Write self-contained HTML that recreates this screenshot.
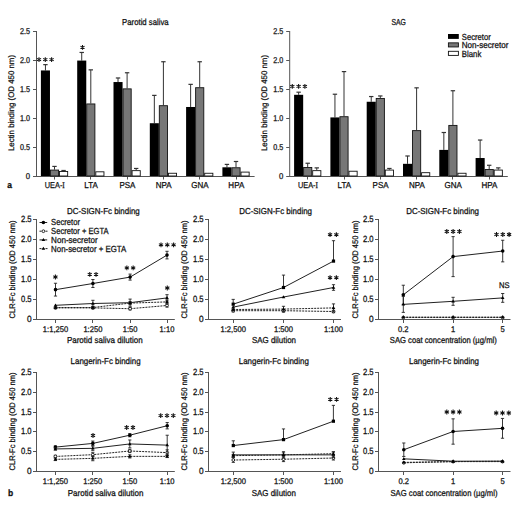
<!DOCTYPE html>
<html><head><meta charset="utf-8"><style>
html,body{margin:0;padding:0;background:#fff;}
svg{display:block;}
text{font-family:"Liberation Sans", sans-serif;text-rendering:geometricPrecision;}
</style></head><body>
<svg width="520" height="516" viewBox="0 0 520 516">
<rect width="520" height="516" fill="#fff"></rect>
<line x1="36.50" y1="31.00" x2="36.50" y2="177.00" stroke="#555" stroke-width="1"></line>
<line x1="33.00" y1="176.50" x2="36.50" y2="176.50" stroke="#555" stroke-width="1"></line>
<text x="30.10" y="178.50" font-size="8.42" text-anchor="end" fill="#111" stroke="#111" stroke-width="0.26" textLength="4.34" lengthAdjust="spacingAndGlyphs">0</text>
<line x1="33.00" y1="147.50" x2="36.50" y2="147.50" stroke="#555" stroke-width="1"></line>
<text x="30.10" y="149.50" font-size="8.42" text-anchor="end" fill="#111" stroke="#111" stroke-width="0.26" textLength="10.0" lengthAdjust="spacingAndGlyphs">0.5</text>
<line x1="33.00" y1="118.50" x2="36.50" y2="118.50" stroke="#555" stroke-width="1"></line>
<text x="30.10" y="120.50" font-size="8.42" text-anchor="end" fill="#111" stroke="#111" stroke-width="0.26" textLength="10.0" lengthAdjust="spacingAndGlyphs">1.0</text>
<line x1="33.00" y1="89.50" x2="36.50" y2="89.50" stroke="#555" stroke-width="1"></line>
<text x="30.10" y="91.50" font-size="8.42" text-anchor="end" fill="#111" stroke="#111" stroke-width="0.26" textLength="10.0" lengthAdjust="spacingAndGlyphs">1.5</text>
<line x1="33.00" y1="60.50" x2="36.50" y2="60.50" stroke="#555" stroke-width="1"></line>
<text x="30.10" y="62.50" font-size="8.42" text-anchor="end" fill="#111" stroke="#111" stroke-width="0.26" textLength="10.0" lengthAdjust="spacingAndGlyphs">2.0</text>
<line x1="33.00" y1="31.50" x2="36.50" y2="31.50" stroke="#555" stroke-width="1"></line>
<text x="30.10" y="33.50" font-size="8.42" text-anchor="end" fill="#111" stroke="#111" stroke-width="0.26" textLength="10.0" lengthAdjust="spacingAndGlyphs">2.5</text>
<line x1="36.50" y1="176.50" x2="254.60" y2="176.50" stroke="#555" stroke-width="1"></line>
<text x="0.00" y="0.00" font-size="8.1" text-anchor="middle" fill="#111" stroke="#111" stroke-width="0.26" textLength="96" lengthAdjust="spacingAndGlyphs" data-noscale="1" transform="translate(13.9,103) rotate(-90)">Lectin binding (OD 450 nm)</text>
<line x1="54.50" y1="177.00" x2="54.50" y2="179.50" stroke="#555" stroke-width="1"></line>
<text x="54.80" y="187.70" font-size="8.64" text-anchor="middle" fill="#111" stroke="#111" stroke-width="0.26" textLength="20.0" lengthAdjust="spacingAndGlyphs">UEA-<tspan font-family="Liberation Serif">I</tspan></text>
<line x1="45.44" y1="64.64" x2="45.44" y2="70.44" stroke="#333" stroke-width="1"></line>
<line x1="43.23" y1="64.64" x2="47.64" y2="64.64" stroke="#333" stroke-width="1.2"></line>
<rect x="40.90" y="70.44" width="9.07" height="105.56" fill="#000"></rect>
<line x1="54.50" y1="166.43" x2="54.50" y2="169.62" stroke="#333" stroke-width="1"></line>
<line x1="52.30" y1="166.43" x2="56.70" y2="166.43" stroke="#333" stroke-width="1.2"></line>
<rect x="50.42" y="170.07" width="8.17" height="5.93" fill="#777" stroke="#111" stroke-width="0.9"></rect>
<line x1="63.58" y1="170.49" x2="63.58" y2="171.07" stroke="#333" stroke-width="1"></line>
<line x1="61.38" y1="170.49" x2="65.78" y2="170.49" stroke="#333" stroke-width="1.2"></line>
<rect x="59.49" y="171.52" width="8.17" height="4.48" fill="#fff" stroke="#111" stroke-width="0.9"></rect>
<line x1="90.50" y1="177.00" x2="90.50" y2="179.50" stroke="#555" stroke-width="1"></line>
<text x="91.10" y="187.70" font-size="8.64" text-anchor="middle" fill="#111" stroke="#111" stroke-width="0.26" textLength="13.48" lengthAdjust="spacingAndGlyphs">LTA</text>
<line x1="81.73" y1="52.46" x2="81.73" y2="60.58" stroke="#333" stroke-width="1"></line>
<line x1="79.53" y1="52.46" x2="83.94" y2="52.46" stroke="#333" stroke-width="1.2"></line>
<rect x="77.20" y="60.58" width="9.07" height="115.42" fill="#000"></rect>
<line x1="90.81" y1="69.86" x2="90.81" y2="103.50" stroke="#333" stroke-width="1"></line>
<line x1="88.61" y1="69.86" x2="93.01" y2="69.86" stroke="#333" stroke-width="1.2"></line>
<rect x="86.72" y="103.95" width="8.17" height="72.05" fill="#777" stroke="#111" stroke-width="0.9"></rect>
<rect x="95.79" y="171.81" width="8.17" height="4.19" fill="#fff" stroke="#111" stroke-width="0.9"></rect>
<line x1="127.50" y1="177.00" x2="127.50" y2="179.50" stroke="#555" stroke-width="1"></line>
<text x="127.40" y="187.70" font-size="8.64" text-anchor="middle" fill="#111" stroke="#111" stroke-width="0.26" textLength="16.02" lengthAdjust="spacingAndGlyphs">PSA</text>
<line x1="118.03" y1="77.98" x2="118.03" y2="82.04" stroke="#333" stroke-width="1"></line>
<line x1="115.83" y1="77.98" x2="120.23" y2="77.98" stroke="#333" stroke-width="1.2"></line>
<rect x="113.50" y="82.04" width="9.07" height="93.96" fill="#000"></rect>
<line x1="127.10" y1="72.76" x2="127.10" y2="88.42" stroke="#333" stroke-width="1"></line>
<line x1="124.90" y1="72.76" x2="129.30" y2="72.76" stroke="#333" stroke-width="1.2"></line>
<rect x="123.02" y="88.87" width="8.17" height="87.13" fill="#777" stroke="#111" stroke-width="0.9"></rect>
<line x1="136.17" y1="168.46" x2="136.17" y2="170.20" stroke="#333" stroke-width="1"></line>
<line x1="133.97" y1="168.46" x2="138.37" y2="168.46" stroke="#333" stroke-width="1.2"></line>
<rect x="132.09" y="170.65" width="8.17" height="5.35" fill="#fff" stroke="#111" stroke-width="0.9"></rect>
<line x1="163.50" y1="177.00" x2="163.50" y2="179.50" stroke="#555" stroke-width="1"></line>
<text x="163.70" y="187.70" font-size="8.64" text-anchor="middle" fill="#111" stroke="#111" stroke-width="0.26" textLength="15.86" lengthAdjust="spacingAndGlyphs">NPA</text>
<line x1="154.33" y1="95.38" x2="154.33" y2="123.22" stroke="#333" stroke-width="1"></line>
<line x1="152.13" y1="95.38" x2="156.53" y2="95.38" stroke="#333" stroke-width="1.2"></line>
<rect x="149.80" y="123.22" width="9.07" height="52.78" fill="#000"></rect>
<line x1="163.40" y1="61.74" x2="163.40" y2="105.24" stroke="#333" stroke-width="1"></line>
<line x1="161.20" y1="61.74" x2="165.60" y2="61.74" stroke="#333" stroke-width="1.2"></line>
<rect x="159.32" y="105.69" width="8.17" height="70.31" fill="#777" stroke="#111" stroke-width="0.9"></rect>
<rect x="168.39" y="173.26" width="8.17" height="2.74" fill="#fff" stroke="#111" stroke-width="0.9"></rect>
<line x1="199.50" y1="177.00" x2="199.50" y2="179.50" stroke="#555" stroke-width="1"></line>
<text x="200.00" y="187.70" font-size="8.64" text-anchor="middle" fill="#111" stroke="#111" stroke-width="0.26" textLength="17.34" lengthAdjust="spacingAndGlyphs">GNA</text>
<line x1="190.63" y1="84.36" x2="190.63" y2="106.98" stroke="#333" stroke-width="1"></line>
<line x1="188.44" y1="84.36" x2="192.83" y2="84.36" stroke="#333" stroke-width="1.2"></line>
<rect x="186.10" y="106.98" width="9.07" height="69.02" fill="#000"></rect>
<line x1="199.70" y1="61.74" x2="199.70" y2="87.26" stroke="#333" stroke-width="1"></line>
<line x1="197.50" y1="61.74" x2="201.90" y2="61.74" stroke="#333" stroke-width="1.2"></line>
<rect x="195.62" y="87.71" width="8.17" height="88.29" fill="#777" stroke="#111" stroke-width="0.9"></rect>
<rect x="204.69" y="173.26" width="8.17" height="2.74" fill="#fff" stroke="#111" stroke-width="0.9"></rect>
<line x1="236.50" y1="177.00" x2="236.50" y2="179.50" stroke="#555" stroke-width="1"></line>
<text x="236.30" y="187.70" font-size="8.64" text-anchor="middle" fill="#111" stroke="#111" stroke-width="0.26" textLength="15.86" lengthAdjust="spacingAndGlyphs">HPA</text>
<line x1="226.94" y1="164.40" x2="226.94" y2="167.30" stroke="#333" stroke-width="1"></line>
<line x1="224.74" y1="164.40" x2="229.13" y2="164.40" stroke="#333" stroke-width="1.2"></line>
<rect x="222.40" y="167.30" width="9.07" height="8.70" fill="#000"></rect>
<line x1="236.00" y1="161.50" x2="236.00" y2="167.30" stroke="#333" stroke-width="1"></line>
<line x1="233.81" y1="161.50" x2="238.20" y2="161.50" stroke="#333" stroke-width="1.2"></line>
<rect x="231.92" y="167.75" width="8.17" height="8.25" fill="#777" stroke="#111" stroke-width="0.9"></rect>
<rect x="240.99" y="172.10" width="8.17" height="3.90" fill="#fff" stroke="#111" stroke-width="0.9"></rect>
<path d="M39.00,57.20L39.00,62.00M36.92,58.40L41.08,60.80M41.08,58.40L36.92,60.80" stroke="#111" stroke-width="1.05" fill="none"></path>
<path d="M45.30,57.20L45.30,62.00M43.22,58.40L47.38,60.80M47.38,58.40L43.22,60.80" stroke="#111" stroke-width="1.05" fill="none"></path>
<path d="M51.60,57.20L51.60,62.00M49.52,58.40L53.68,60.80M53.68,58.40L49.52,60.80" stroke="#111" stroke-width="1.05" fill="none"></path>
<path d="M82.50,44.90L82.50,49.70M80.42,46.10L84.58,48.50M84.58,46.10L80.42,48.50" stroke="#111" stroke-width="1.05" fill="none"></path>
<text x="145.40" y="25.20" font-size="8.64" text-anchor="middle" fill="#111" stroke="#111" stroke-width="0.26" textLength="46.6" lengthAdjust="spacingAndGlyphs">Parotid saliva</text>
<line x1="289.70" y1="31.00" x2="289.70" y2="177.00" stroke="#555" stroke-width="1"></line>
<line x1="286.20" y1="176.50" x2="289.70" y2="176.50" stroke="#555" stroke-width="1"></line>
<text x="283.30" y="178.50" font-size="8.42" text-anchor="end" fill="#111" stroke="#111" stroke-width="0.26" textLength="4.34" lengthAdjust="spacingAndGlyphs">0</text>
<line x1="286.20" y1="147.50" x2="289.70" y2="147.50" stroke="#555" stroke-width="1"></line>
<text x="283.30" y="149.50" font-size="8.42" text-anchor="end" fill="#111" stroke="#111" stroke-width="0.26" textLength="10.0" lengthAdjust="spacingAndGlyphs">0.5</text>
<line x1="286.20" y1="118.50" x2="289.70" y2="118.50" stroke="#555" stroke-width="1"></line>
<text x="283.30" y="120.50" font-size="8.42" text-anchor="end" fill="#111" stroke="#111" stroke-width="0.26" textLength="10.0" lengthAdjust="spacingAndGlyphs">1.0</text>
<line x1="286.20" y1="89.50" x2="289.70" y2="89.50" stroke="#555" stroke-width="1"></line>
<text x="283.30" y="91.50" font-size="8.42" text-anchor="end" fill="#111" stroke="#111" stroke-width="0.26" textLength="10.0" lengthAdjust="spacingAndGlyphs">1.5</text>
<line x1="286.20" y1="60.50" x2="289.70" y2="60.50" stroke="#555" stroke-width="1"></line>
<text x="283.30" y="62.50" font-size="8.42" text-anchor="end" fill="#111" stroke="#111" stroke-width="0.26" textLength="10.0" lengthAdjust="spacingAndGlyphs">2.0</text>
<line x1="286.20" y1="31.50" x2="289.70" y2="31.50" stroke="#555" stroke-width="1"></line>
<text x="283.30" y="33.50" font-size="8.42" text-anchor="end" fill="#111" stroke="#111" stroke-width="0.26" textLength="10.0" lengthAdjust="spacingAndGlyphs">2.5</text>
<line x1="289.70" y1="176.50" x2="507.80" y2="176.50" stroke="#555" stroke-width="1"></line>
<text x="0.00" y="0.00" font-size="8.1" text-anchor="middle" fill="#111" stroke="#111" stroke-width="0.26" textLength="96" lengthAdjust="spacingAndGlyphs" data-noscale="1" transform="translate(267.09999999999997,103) rotate(-90)">Lectin binding (OD 450 nm)</text>
<line x1="307.50" y1="177.00" x2="307.50" y2="179.50" stroke="#555" stroke-width="1"></line>
<text x="308.00" y="187.70" font-size="8.64" text-anchor="middle" fill="#111" stroke="#111" stroke-width="0.26" textLength="20.0" lengthAdjust="spacingAndGlyphs">UEA-<tspan font-family="Liberation Serif">I</tspan></text>
<line x1="298.63" y1="92.19" x2="298.63" y2="94.80" stroke="#333" stroke-width="1"></line>
<line x1="296.44" y1="92.19" x2="300.83" y2="92.19" stroke="#333" stroke-width="1.2"></line>
<rect x="294.10" y="94.80" width="9.07" height="81.20" fill="#000"></rect>
<line x1="307.70" y1="163.24" x2="307.70" y2="167.01" stroke="#333" stroke-width="1"></line>
<line x1="305.50" y1="163.24" x2="309.90" y2="163.24" stroke="#333" stroke-width="1.2"></line>
<rect x="303.62" y="167.46" width="8.17" height="8.54" fill="#777" stroke="#111" stroke-width="0.9"></rect>
<line x1="316.77" y1="167.88" x2="316.77" y2="170.20" stroke="#333" stroke-width="1"></line>
<line x1="314.57" y1="167.88" x2="318.97" y2="167.88" stroke="#333" stroke-width="1.2"></line>
<rect x="312.69" y="170.65" width="8.17" height="5.35" fill="#fff" stroke="#111" stroke-width="0.9"></rect>
<line x1="344.50" y1="177.00" x2="344.50" y2="179.50" stroke="#555" stroke-width="1"></line>
<text x="344.30" y="187.70" font-size="8.64" text-anchor="middle" fill="#111" stroke="#111" stroke-width="0.26" textLength="13.48" lengthAdjust="spacingAndGlyphs">LTA</text>
<line x1="334.94" y1="94.22" x2="334.94" y2="117.42" stroke="#333" stroke-width="1"></line>
<line x1="332.74" y1="94.22" x2="337.13" y2="94.22" stroke="#333" stroke-width="1.2"></line>
<rect x="330.40" y="117.42" width="9.07" height="58.58" fill="#000"></rect>
<line x1="344.00" y1="71.60" x2="344.00" y2="116.26" stroke="#333" stroke-width="1"></line>
<line x1="341.81" y1="71.60" x2="346.20" y2="71.60" stroke="#333" stroke-width="1.2"></line>
<rect x="339.92" y="116.71" width="8.17" height="59.29" fill="#777" stroke="#111" stroke-width="0.9"></rect>
<rect x="348.99" y="171.23" width="8.17" height="4.77" fill="#fff" stroke="#111" stroke-width="0.9"></rect>
<line x1="380.50" y1="177.00" x2="380.50" y2="179.50" stroke="#555" stroke-width="1"></line>
<text x="380.60" y="187.70" font-size="8.64" text-anchor="middle" fill="#111" stroke="#111" stroke-width="0.26" textLength="16.02" lengthAdjust="spacingAndGlyphs">PSA</text>
<line x1="371.23" y1="96.54" x2="371.23" y2="101.76" stroke="#333" stroke-width="1"></line>
<line x1="369.03" y1="96.54" x2="373.43" y2="96.54" stroke="#333" stroke-width="1.2"></line>
<rect x="366.70" y="101.76" width="9.07" height="74.24" fill="#000"></rect>
<line x1="380.30" y1="95.96" x2="380.30" y2="97.99" stroke="#333" stroke-width="1"></line>
<line x1="378.10" y1="95.96" x2="382.50" y2="95.96" stroke="#333" stroke-width="1.2"></line>
<rect x="376.22" y="98.44" width="8.17" height="77.56" fill="#777" stroke="#111" stroke-width="0.9"></rect>
<line x1="389.37" y1="168.46" x2="389.37" y2="169.62" stroke="#333" stroke-width="1"></line>
<line x1="387.17" y1="168.46" x2="391.57" y2="168.46" stroke="#333" stroke-width="1.2"></line>
<rect x="385.29" y="170.07" width="8.17" height="5.93" fill="#fff" stroke="#111" stroke-width="0.9"></rect>
<line x1="416.50" y1="177.00" x2="416.50" y2="179.50" stroke="#555" stroke-width="1"></line>
<text x="416.90" y="187.70" font-size="8.64" text-anchor="middle" fill="#111" stroke="#111" stroke-width="0.26" textLength="15.86" lengthAdjust="spacingAndGlyphs">NPA</text>
<line x1="407.53" y1="155.99" x2="407.53" y2="163.82" stroke="#333" stroke-width="1"></line>
<line x1="405.33" y1="155.99" x2="409.73" y2="155.99" stroke="#333" stroke-width="1.2"></line>
<rect x="403.00" y="163.82" width="9.07" height="12.18" fill="#000"></rect>
<line x1="416.60" y1="87.84" x2="416.60" y2="130.18" stroke="#333" stroke-width="1"></line>
<line x1="414.40" y1="87.84" x2="418.80" y2="87.84" stroke="#333" stroke-width="1.2"></line>
<rect x="412.52" y="130.63" width="8.17" height="45.37" fill="#777" stroke="#111" stroke-width="0.9"></rect>
<rect x="421.59" y="172.68" width="8.17" height="3.32" fill="#fff" stroke="#111" stroke-width="0.9"></rect>
<line x1="452.50" y1="177.00" x2="452.50" y2="179.50" stroke="#555" stroke-width="1"></line>
<text x="453.20" y="187.70" font-size="8.64" text-anchor="middle" fill="#111" stroke="#111" stroke-width="0.26" textLength="17.34" lengthAdjust="spacingAndGlyphs">GNA</text>
<line x1="443.83" y1="132.50" x2="443.83" y2="149.90" stroke="#333" stroke-width="1"></line>
<line x1="441.63" y1="132.50" x2="446.03" y2="132.50" stroke="#333" stroke-width="1.2"></line>
<rect x="439.30" y="149.90" width="9.07" height="26.10" fill="#000"></rect>
<line x1="452.90" y1="90.74" x2="452.90" y2="124.96" stroke="#333" stroke-width="1"></line>
<line x1="450.70" y1="90.74" x2="455.10" y2="90.74" stroke="#333" stroke-width="1.2"></line>
<rect x="448.82" y="125.41" width="8.17" height="50.59" fill="#777" stroke="#111" stroke-width="0.9"></rect>
<rect x="457.89" y="173.26" width="8.17" height="2.74" fill="#fff" stroke="#111" stroke-width="0.9"></rect>
<line x1="489.50" y1="177.00" x2="489.50" y2="179.50" stroke="#555" stroke-width="1"></line>
<text x="489.50" y="187.70" font-size="8.64" text-anchor="middle" fill="#111" stroke="#111" stroke-width="0.26" textLength="15.86" lengthAdjust="spacingAndGlyphs">HPA</text>
<line x1="480.13" y1="140.04" x2="480.13" y2="158.02" stroke="#333" stroke-width="1"></line>
<line x1="477.94" y1="140.04" x2="482.33" y2="140.04" stroke="#333" stroke-width="1.2"></line>
<rect x="475.60" y="158.02" width="9.07" height="17.98" fill="#000"></rect>
<line x1="489.20" y1="165.27" x2="489.20" y2="169.04" stroke="#333" stroke-width="1"></line>
<line x1="487.00" y1="165.27" x2="491.40" y2="165.27" stroke="#333" stroke-width="1.2"></line>
<rect x="485.12" y="169.49" width="8.17" height="6.51" fill="#777" stroke="#111" stroke-width="0.9"></rect>
<line x1="498.27" y1="167.88" x2="498.27" y2="169.62" stroke="#333" stroke-width="1"></line>
<line x1="496.07" y1="167.88" x2="500.47" y2="167.88" stroke="#333" stroke-width="1.2"></line>
<rect x="494.19" y="170.07" width="8.17" height="5.93" fill="#fff" stroke="#111" stroke-width="0.9"></rect>
<path d="M292.30,84.00L292.30,88.80M290.22,85.20L294.38,87.60M294.38,85.20L290.22,87.60" stroke="#111" stroke-width="1.05" fill="none"></path>
<path d="M298.60,84.00L298.60,88.80M296.52,85.20L300.68,87.60M300.68,85.20L296.52,87.60" stroke="#111" stroke-width="1.05" fill="none"></path>
<path d="M304.90,84.00L304.90,88.80M302.82,85.20L306.98,87.60M306.98,85.20L302.82,87.60" stroke="#111" stroke-width="1.05" fill="none"></path>
<text x="398.60" y="25.20" font-size="8.64" text-anchor="middle" fill="#111" stroke="#111" stroke-width="0.26" textLength="14.4" lengthAdjust="spacingAndGlyphs">SAG</text>
<rect x="448.00" y="34.00" width="10.80" height="4.90" fill="#000"></rect>
<text x="461.80" y="39.60" font-size="8.86" text-anchor="start" fill="#111" stroke="#111" stroke-width="0.26" textLength="28.9" lengthAdjust="spacingAndGlyphs">Secretor</text>
<rect x="448.40" y="42.85" width="10.00" height="4.10" fill="#777" stroke="#111" stroke-width="0.9"></rect>
<text x="461.80" y="48.05" font-size="8.86" text-anchor="start" fill="#111" stroke="#111" stroke-width="0.26" textLength="46.6" lengthAdjust="spacingAndGlyphs">Non-secretor</text>
<rect x="448.40" y="51.30" width="10.00" height="4.10" fill="#fff" stroke="#111" stroke-width="0.9"></rect>
<text x="461.80" y="56.50" font-size="8.86" text-anchor="start" fill="#111" stroke="#111" stroke-width="0.26" textLength="19.5" lengthAdjust="spacingAndGlyphs">Blank</text>
<text x="7.30" y="188.20" font-size="9.18" text-anchor="start" fill="#111" stroke="#111" stroke-width="0.26" font-weight="bold" textLength="4.73" lengthAdjust="spacingAndGlyphs">a</text>
<line x1="36.50" y1="219.00" x2="36.50" y2="320.00" stroke="#555" stroke-width="1"></line>
<line x1="33.00" y1="319.50" x2="36.50" y2="319.50" stroke="#555" stroke-width="1"></line>
<text x="31.60" y="321.80" font-size="8.96" text-anchor="end" fill="#111" stroke="#111" stroke-width="0.26" textLength="4.63" lengthAdjust="spacingAndGlyphs">0</text>
<line x1="33.00" y1="299.50" x2="36.50" y2="299.50" stroke="#555" stroke-width="1"></line>
<text x="31.60" y="301.80" font-size="8.96" text-anchor="end" fill="#111" stroke="#111" stroke-width="0.26" textLength="10.6" lengthAdjust="spacingAndGlyphs">0.5</text>
<line x1="33.00" y1="279.50" x2="36.50" y2="279.50" stroke="#555" stroke-width="1"></line>
<text x="31.60" y="281.80" font-size="8.96" text-anchor="end" fill="#111" stroke="#111" stroke-width="0.26" textLength="10.6" lengthAdjust="spacingAndGlyphs">1.0</text>
<line x1="33.00" y1="259.50" x2="36.50" y2="259.50" stroke="#555" stroke-width="1"></line>
<text x="31.60" y="261.80" font-size="8.96" text-anchor="end" fill="#111" stroke="#111" stroke-width="0.26" textLength="10.6" lengthAdjust="spacingAndGlyphs">1.5</text>
<line x1="33.00" y1="239.50" x2="36.50" y2="239.50" stroke="#555" stroke-width="1"></line>
<text x="31.60" y="241.80" font-size="8.96" text-anchor="end" fill="#111" stroke="#111" stroke-width="0.26" textLength="10.6" lengthAdjust="spacingAndGlyphs">2.0</text>
<line x1="33.00" y1="219.50" x2="36.50" y2="219.50" stroke="#555" stroke-width="1"></line>
<text x="31.60" y="221.80" font-size="8.96" text-anchor="end" fill="#111" stroke="#111" stroke-width="0.26" textLength="10.6" lengthAdjust="spacingAndGlyphs">2.5</text>
<line x1="36.50" y1="319.50" x2="174.80" y2="319.50" stroke="#555" stroke-width="1"></line>
<line x1="55.50" y1="320.00" x2="55.50" y2="323.00" stroke="#555" stroke-width="1"></line>
<text x="55.50" y="332.40" font-size="8.21" text-anchor="middle" fill="#111" stroke="#111" stroke-width="0.26" textLength="25.34" lengthAdjust="spacingAndGlyphs">1:1,250</text>
<line x1="92.50" y1="320.00" x2="92.50" y2="323.00" stroke="#555" stroke-width="1"></line>
<text x="92.90" y="332.40" font-size="8.21" text-anchor="middle" fill="#111" stroke="#111" stroke-width="0.26" textLength="19.02" lengthAdjust="spacingAndGlyphs">1:250</text>
<line x1="130.50" y1="320.00" x2="130.50" y2="323.00" stroke="#555" stroke-width="1"></line>
<text x="130.10" y="332.40" font-size="8.21" text-anchor="middle" fill="#111" stroke="#111" stroke-width="0.26" textLength="14.78" lengthAdjust="spacingAndGlyphs">1:50</text>
<line x1="167.50" y1="320.00" x2="167.50" y2="323.00" stroke="#555" stroke-width="1"></line>
<text x="167.00" y="332.40" font-size="8.21" text-anchor="middle" fill="#111" stroke="#111" stroke-width="0.26" textLength="14.78" lengthAdjust="spacingAndGlyphs">1:10</text>
<text x="0.00" y="0.00" font-size="8.1" text-anchor="middle" fill="#111" stroke="#111" stroke-width="0.26" textLength="98" lengthAdjust="spacingAndGlyphs" data-noscale="1" transform="translate(15.3,269.5) rotate(-90)">CLR-Fc binding (OD 450 nm)</text>
<text x="103.40" y="214.20" font-size="8.64" text-anchor="middle" fill="#111" stroke="#111" stroke-width="0.26" textLength="72.8" lengthAdjust="spacingAndGlyphs">DC-SIGN-Fc binding</text>
<text x="104.80" y="342.70" font-size="8.64" text-anchor="middle" fill="#111" stroke="#111" stroke-width="0.26" textLength="75.8" lengthAdjust="spacingAndGlyphs">Parotid saliva dilution</text>
<path d="M55.50,289.66 L92.90,283.50 L130.10,277.10 L167.00,255.10" fill="none" stroke="#222" stroke-width="1"></path>
<line x1="55.50" y1="283.26" x2="55.50" y2="289.66" stroke="#222" stroke-width="0.9"></line>
<line x1="53.90" y1="283.26" x2="57.10" y2="283.26" stroke="#222" stroke-width="0.9"></line>
<line x1="55.50" y1="289.66" x2="55.50" y2="296.06" stroke="#222" stroke-width="0.9"></line>
<line x1="53.90" y1="296.06" x2="57.10" y2="296.06" stroke="#222" stroke-width="0.9"></line>
<line x1="92.90" y1="279.50" x2="92.90" y2="283.50" stroke="#222" stroke-width="0.9"></line>
<line x1="91.30" y1="279.50" x2="94.50" y2="279.50" stroke="#222" stroke-width="0.9"></line>
<line x1="92.90" y1="283.50" x2="92.90" y2="287.50" stroke="#222" stroke-width="0.9"></line>
<line x1="91.30" y1="287.50" x2="94.50" y2="287.50" stroke="#222" stroke-width="0.9"></line>
<line x1="130.10" y1="274.10" x2="130.10" y2="277.10" stroke="#222" stroke-width="0.9"></line>
<line x1="128.50" y1="274.10" x2="131.70" y2="274.10" stroke="#222" stroke-width="0.9"></line>
<line x1="130.10" y1="277.10" x2="130.10" y2="280.10" stroke="#222" stroke-width="0.9"></line>
<line x1="128.50" y1="280.10" x2="131.70" y2="280.10" stroke="#222" stroke-width="0.9"></line>
<line x1="167.00" y1="251.30" x2="167.00" y2="255.10" stroke="#222" stroke-width="0.9"></line>
<line x1="165.40" y1="251.30" x2="168.60" y2="251.30" stroke="#222" stroke-width="0.9"></line>
<line x1="167.00" y1="255.10" x2="167.00" y2="258.90" stroke="#222" stroke-width="0.9"></line>
<line x1="165.40" y1="258.90" x2="168.60" y2="258.90" stroke="#222" stroke-width="0.9"></line>
<circle cx="55.50" cy="289.66" r="1.8" fill="#000"></circle>
<circle cx="92.90" cy="283.50" r="1.8" fill="#000"></circle>
<circle cx="130.10" cy="277.10" r="1.8" fill="#000"></circle>
<circle cx="167.00" cy="255.10" r="1.8" fill="#000"></circle>
<path d="M55.50,307.90 L92.90,307.90 L130.10,308.70 L167.00,305.50" fill="none" stroke="#222" stroke-width="1" stroke-dasharray="2,1"></path>
<line x1="55.50" y1="307.10" x2="55.50" y2="307.90" stroke="#222" stroke-width="0.9"></line>
<line x1="53.90" y1="307.10" x2="57.10" y2="307.10" stroke="#222" stroke-width="0.9"></line>
<line x1="55.50" y1="307.90" x2="55.50" y2="308.70" stroke="#222" stroke-width="0.9"></line>
<line x1="53.90" y1="308.70" x2="57.10" y2="308.70" stroke="#222" stroke-width="0.9"></line>
<line x1="92.90" y1="307.10" x2="92.90" y2="307.90" stroke="#222" stroke-width="0.9"></line>
<line x1="91.30" y1="307.10" x2="94.50" y2="307.10" stroke="#222" stroke-width="0.9"></line>
<line x1="92.90" y1="307.90" x2="92.90" y2="308.70" stroke="#222" stroke-width="0.9"></line>
<line x1="91.30" y1="308.70" x2="94.50" y2="308.70" stroke="#222" stroke-width="0.9"></line>
<line x1="130.10" y1="307.50" x2="130.10" y2="308.70" stroke="#222" stroke-width="0.9"></line>
<line x1="128.50" y1="307.50" x2="131.70" y2="307.50" stroke="#222" stroke-width="0.9"></line>
<line x1="130.10" y1="308.70" x2="130.10" y2="309.90" stroke="#222" stroke-width="0.9"></line>
<line x1="128.50" y1="309.90" x2="131.70" y2="309.90" stroke="#222" stroke-width="0.9"></line>
<line x1="167.00" y1="303.90" x2="167.00" y2="305.50" stroke="#222" stroke-width="0.9"></line>
<line x1="165.40" y1="303.90" x2="168.60" y2="303.90" stroke="#222" stroke-width="0.9"></line>
<line x1="167.00" y1="305.50" x2="167.00" y2="307.10" stroke="#222" stroke-width="0.9"></line>
<line x1="165.40" y1="307.10" x2="168.60" y2="307.10" stroke="#222" stroke-width="0.9"></line>
<circle cx="55.50" cy="307.90" r="1.4" fill="#fff" stroke="#000" stroke-width="0.8"></circle>
<circle cx="92.90" cy="307.90" r="1.4" fill="#fff" stroke="#000" stroke-width="0.8"></circle>
<circle cx="130.10" cy="308.70" r="1.4" fill="#fff" stroke="#000" stroke-width="0.8"></circle>
<circle cx="167.00" cy="305.50" r="1.4" fill="#fff" stroke="#000" stroke-width="0.8"></circle>
<path d="M55.50,305.30 L92.90,303.50 L130.10,302.70 L167.00,297.90" fill="none" stroke="#222" stroke-width="1"></path>
<line x1="92.90" y1="300.30" x2="92.90" y2="303.50" stroke="#222" stroke-width="0.9"></line>
<line x1="91.30" y1="300.30" x2="94.50" y2="300.30" stroke="#222" stroke-width="0.9"></line>
<line x1="92.90" y1="303.50" x2="92.90" y2="306.70" stroke="#222" stroke-width="0.9"></line>
<line x1="91.30" y1="306.70" x2="94.50" y2="306.70" stroke="#222" stroke-width="0.9"></line>
<line x1="130.10" y1="299.10" x2="130.10" y2="302.70" stroke="#222" stroke-width="0.9"></line>
<line x1="128.50" y1="299.10" x2="131.70" y2="299.10" stroke="#222" stroke-width="0.9"></line>
<line x1="130.10" y1="302.70" x2="130.10" y2="306.30" stroke="#222" stroke-width="0.9"></line>
<line x1="128.50" y1="306.30" x2="131.70" y2="306.30" stroke="#222" stroke-width="0.9"></line>
<line x1="167.00" y1="294.70" x2="167.00" y2="297.90" stroke="#222" stroke-width="0.9"></line>
<line x1="165.40" y1="294.70" x2="168.60" y2="294.70" stroke="#222" stroke-width="0.9"></line>
<line x1="167.00" y1="297.90" x2="167.00" y2="301.10" stroke="#222" stroke-width="0.9"></line>
<line x1="165.40" y1="301.10" x2="168.60" y2="301.10" stroke="#222" stroke-width="0.9"></line>
<path d="M53.70,306.50 L55.50,303.50 L57.30,306.50 Z" fill="#000"></path>
<path d="M91.10,304.70 L92.90,301.70 L94.70,304.70 Z" fill="#000"></path>
<path d="M128.30,303.90 L130.10,300.90 L131.90,303.90 Z" fill="#000"></path>
<path d="M165.20,299.10 L167.00,296.10 L168.80,299.10 Z" fill="#000"></path>
<path d="M55.50,307.50 L92.90,307.50 L130.10,303.10 L167.00,301.90" fill="none" stroke="#222" stroke-width="1" stroke-dasharray="2,1"></path>
<line x1="55.50" y1="306.70" x2="55.50" y2="307.50" stroke="#222" stroke-width="0.9"></line>
<line x1="53.90" y1="306.70" x2="57.10" y2="306.70" stroke="#222" stroke-width="0.9"></line>
<line x1="55.50" y1="307.50" x2="55.50" y2="308.30" stroke="#222" stroke-width="0.9"></line>
<line x1="53.90" y1="308.30" x2="57.10" y2="308.30" stroke="#222" stroke-width="0.9"></line>
<line x1="92.90" y1="306.30" x2="92.90" y2="307.50" stroke="#222" stroke-width="0.9"></line>
<line x1="91.30" y1="306.30" x2="94.50" y2="306.30" stroke="#222" stroke-width="0.9"></line>
<line x1="92.90" y1="307.50" x2="92.90" y2="308.70" stroke="#222" stroke-width="0.9"></line>
<line x1="91.30" y1="308.70" x2="94.50" y2="308.70" stroke="#222" stroke-width="0.9"></line>
<line x1="130.10" y1="301.50" x2="130.10" y2="303.10" stroke="#222" stroke-width="0.9"></line>
<line x1="128.50" y1="301.50" x2="131.70" y2="301.50" stroke="#222" stroke-width="0.9"></line>
<line x1="130.10" y1="303.10" x2="130.10" y2="304.70" stroke="#222" stroke-width="0.9"></line>
<line x1="128.50" y1="304.70" x2="131.70" y2="304.70" stroke="#222" stroke-width="0.9"></line>
<line x1="167.00" y1="299.90" x2="167.00" y2="301.90" stroke="#222" stroke-width="0.9"></line>
<line x1="165.40" y1="299.90" x2="168.60" y2="299.90" stroke="#222" stroke-width="0.9"></line>
<line x1="167.00" y1="301.90" x2="167.00" y2="303.90" stroke="#222" stroke-width="0.9"></line>
<line x1="165.40" y1="303.90" x2="168.60" y2="303.90" stroke="#222" stroke-width="0.9"></line>
<path d="M53.70,308.70 L55.50,305.70 L57.30,308.70 Z" fill="#000"></path>
<path d="M91.10,308.70 L92.90,305.70 L94.70,308.70 Z" fill="#000"></path>
<path d="M128.30,304.30 L130.10,301.30 L131.90,304.30 Z" fill="#000"></path>
<path d="M165.20,303.10 L167.00,300.10 L168.80,303.10 Z" fill="#000"></path>
<path d="M55.40,274.60L55.40,279.40M53.32,275.80L57.48,278.20M57.48,275.80L53.32,278.20" stroke="#111" stroke-width="1.05" fill="none"></path>
<path d="M89.75,271.90L89.75,276.70M87.67,273.10L91.83,275.50M91.83,273.10L87.67,275.50" stroke="#111" stroke-width="1.05" fill="none"></path>
<path d="M96.05,271.90L96.05,276.70M93.97,273.10L98.13,275.50M98.13,273.10L93.97,275.50" stroke="#111" stroke-width="1.05" fill="none"></path>
<path d="M126.85,265.50L126.85,270.30M124.77,266.70L128.93,269.10M128.93,266.70L124.77,269.10" stroke="#111" stroke-width="1.05" fill="none"></path>
<path d="M133.15,265.50L133.15,270.30M131.07,266.70L135.23,269.10M135.23,266.70L131.07,269.10" stroke="#111" stroke-width="1.05" fill="none"></path>
<path d="M161.00,242.40L161.00,247.20M158.92,243.60L163.08,246.00M163.08,243.60L158.92,246.00" stroke="#111" stroke-width="1.05" fill="none"></path>
<path d="M167.30,242.40L167.30,247.20M165.22,243.60L169.38,246.00M169.38,243.60L165.22,246.00" stroke="#111" stroke-width="1.05" fill="none"></path>
<path d="M173.60,242.40L173.60,247.20M171.52,243.60L175.68,246.00M175.68,243.60L171.52,246.00" stroke="#111" stroke-width="1.05" fill="none"></path>
<path d="M167.30,285.60L167.30,290.40M165.22,286.80L169.38,289.20M169.38,286.80L165.22,289.20" stroke="#111" stroke-width="1.05" fill="none"></path>
<line x1="39.50" y1="222.50" x2="47.20" y2="222.50" stroke="#222" stroke-width="1"></line>
<circle cx="43.40" cy="222.50" r="1.8" fill="#000"></circle>
<text x="51.10" y="225.40" font-size="8.86" text-anchor="start" fill="#111" stroke="#111" stroke-width="0.26" textLength="28.9" lengthAdjust="spacingAndGlyphs">Secretor</text>
<line x1="39.50" y1="231.20" x2="48.50" y2="231.20" stroke="#222" stroke-width="1" stroke-dasharray="2,1"></line>
<circle cx="43.40" cy="231.20" r="1.4" fill="#fff" stroke="#000" stroke-width="0.8"></circle>
<text x="51.10" y="234.10" font-size="8.86" text-anchor="start" fill="#111" stroke="#111" stroke-width="0.26" textLength="57.5" lengthAdjust="spacingAndGlyphs">Secretor + EGTA</text>
<line x1="39.50" y1="239.90" x2="47.20" y2="239.90" stroke="#222" stroke-width="1"></line>
<path d="M41.60,241.10 L43.40,238.10 L45.20,241.10 Z" fill="#000"></path>
<text x="51.10" y="242.80" font-size="8.86" text-anchor="start" fill="#111" stroke="#111" stroke-width="0.26" textLength="46.6" lengthAdjust="spacingAndGlyphs">Non-secretor</text>
<line x1="39.50" y1="248.60" x2="48.50" y2="248.60" stroke="#222" stroke-width="1" stroke-dasharray="2,1"></line>
<path d="M41.60,249.80 L43.40,246.80 L45.20,249.80 Z" fill="#000"></path>
<text x="51.10" y="251.50" font-size="8.86" text-anchor="start" fill="#111" stroke="#111" stroke-width="0.26" textLength="75.2" lengthAdjust="spacingAndGlyphs">Non-secretor + EGTA</text>
<line x1="208.50" y1="219.00" x2="208.50" y2="320.00" stroke="#555" stroke-width="1"></line>
<line x1="205.00" y1="319.50" x2="208.50" y2="319.50" stroke="#555" stroke-width="1"></line>
<text x="203.60" y="321.80" font-size="8.96" text-anchor="end" fill="#111" stroke="#111" stroke-width="0.26" textLength="4.63" lengthAdjust="spacingAndGlyphs">0</text>
<line x1="205.00" y1="299.50" x2="208.50" y2="299.50" stroke="#555" stroke-width="1"></line>
<text x="203.60" y="301.80" font-size="8.96" text-anchor="end" fill="#111" stroke="#111" stroke-width="0.26" textLength="10.6" lengthAdjust="spacingAndGlyphs">0.5</text>
<line x1="205.00" y1="279.50" x2="208.50" y2="279.50" stroke="#555" stroke-width="1"></line>
<text x="203.60" y="281.80" font-size="8.96" text-anchor="end" fill="#111" stroke="#111" stroke-width="0.26" textLength="10.6" lengthAdjust="spacingAndGlyphs">1.0</text>
<line x1="205.00" y1="259.50" x2="208.50" y2="259.50" stroke="#555" stroke-width="1"></line>
<text x="203.60" y="261.80" font-size="8.96" text-anchor="end" fill="#111" stroke="#111" stroke-width="0.26" textLength="10.6" lengthAdjust="spacingAndGlyphs">1.5</text>
<line x1="205.00" y1="239.50" x2="208.50" y2="239.50" stroke="#555" stroke-width="1"></line>
<text x="203.60" y="241.80" font-size="8.96" text-anchor="end" fill="#111" stroke="#111" stroke-width="0.26" textLength="10.6" lengthAdjust="spacingAndGlyphs">2.0</text>
<line x1="205.00" y1="219.50" x2="208.50" y2="219.50" stroke="#555" stroke-width="1"></line>
<text x="203.60" y="221.80" font-size="8.96" text-anchor="end" fill="#111" stroke="#111" stroke-width="0.26" textLength="10.6" lengthAdjust="spacingAndGlyphs">2.5</text>
<line x1="208.50" y1="319.50" x2="341.00" y2="319.50" stroke="#555" stroke-width="1"></line>
<line x1="233.50" y1="320.00" x2="233.50" y2="323.00" stroke="#555" stroke-width="1"></line>
<text x="233.20" y="332.40" font-size="8.21" text-anchor="middle" fill="#111" stroke="#111" stroke-width="0.26" textLength="25.34" lengthAdjust="spacingAndGlyphs">1:2,500</text>
<line x1="283.50" y1="320.00" x2="283.50" y2="323.00" stroke="#555" stroke-width="1"></line>
<text x="283.50" y="332.40" font-size="8.21" text-anchor="middle" fill="#111" stroke="#111" stroke-width="0.26" textLength="19.02" lengthAdjust="spacingAndGlyphs">1:500</text>
<line x1="333.50" y1="320.00" x2="333.50" y2="323.00" stroke="#555" stroke-width="1"></line>
<text x="333.50" y="332.40" font-size="8.21" text-anchor="middle" fill="#111" stroke="#111" stroke-width="0.26" textLength="19.02" lengthAdjust="spacingAndGlyphs">1:100</text>
<text x="0.00" y="0.00" font-size="8.1" text-anchor="middle" fill="#111" stroke="#111" stroke-width="0.26" textLength="98" lengthAdjust="spacingAndGlyphs" data-noscale="1" transform="translate(187.10000000000002,269.5) rotate(-90)">CLR-Fc binding (OD 450 nm)</text>
<text x="275.60" y="214.20" font-size="8.64" text-anchor="middle" fill="#111" stroke="#111" stroke-width="0.26" textLength="72.8" lengthAdjust="spacingAndGlyphs">DC-SIGN-Fc binding</text>
<text x="274.00" y="342.70" font-size="8.64" text-anchor="middle" fill="#111" stroke="#111" stroke-width="0.26" textLength="44" lengthAdjust="spacingAndGlyphs">SAG dilution</text>
<path d="M233.20,304.18 L283.50,287.50 L333.50,261.10" fill="none" stroke="#222" stroke-width="1"></path>
<line x1="233.20" y1="299.38" x2="233.20" y2="304.18" stroke="#222" stroke-width="0.9"></line>
<line x1="231.60" y1="299.38" x2="234.80" y2="299.38" stroke="#222" stroke-width="0.9"></line>
<line x1="283.50" y1="275.10" x2="283.50" y2="287.50" stroke="#222" stroke-width="0.9"></line>
<line x1="281.90" y1="275.10" x2="285.10" y2="275.10" stroke="#222" stroke-width="0.9"></line>
<line x1="333.50" y1="240.70" x2="333.50" y2="261.10" stroke="#222" stroke-width="0.9"></line>
<line x1="331.90" y1="240.70" x2="335.10" y2="240.70" stroke="#222" stroke-width="0.9"></line>
<rect x="231.60" y="302.58" width="3.2" height="3.2" fill="#000"></rect>
<rect x="281.90" y="285.90" width="3.2" height="3.2" fill="#000"></rect>
<rect x="331.90" y="259.50" width="3.2" height="3.2" fill="#000"></rect>
<path d="M233.20,310.70 L283.50,310.70 L333.50,311.50" fill="none" stroke="#222" stroke-width="1" stroke-dasharray="2,1"></path>
<line x1="233.20" y1="309.50" x2="233.20" y2="310.70" stroke="#222" stroke-width="0.9"></line>
<line x1="231.60" y1="309.50" x2="234.80" y2="309.50" stroke="#222" stroke-width="0.9"></line>
<line x1="233.20" y1="310.70" x2="233.20" y2="311.90" stroke="#222" stroke-width="0.9"></line>
<line x1="231.60" y1="311.90" x2="234.80" y2="311.90" stroke="#222" stroke-width="0.9"></line>
<line x1="283.50" y1="309.50" x2="283.50" y2="310.70" stroke="#222" stroke-width="0.9"></line>
<line x1="281.90" y1="309.50" x2="285.10" y2="309.50" stroke="#222" stroke-width="0.9"></line>
<line x1="283.50" y1="310.70" x2="283.50" y2="311.90" stroke="#222" stroke-width="0.9"></line>
<line x1="281.90" y1="311.90" x2="285.10" y2="311.90" stroke="#222" stroke-width="0.9"></line>
<line x1="333.50" y1="310.30" x2="333.50" y2="311.50" stroke="#222" stroke-width="0.9"></line>
<line x1="331.90" y1="310.30" x2="335.10" y2="310.30" stroke="#222" stroke-width="0.9"></line>
<line x1="333.50" y1="311.50" x2="333.50" y2="312.70" stroke="#222" stroke-width="0.9"></line>
<line x1="331.90" y1="312.70" x2="335.10" y2="312.70" stroke="#222" stroke-width="0.9"></line>
<circle cx="233.20" cy="310.70" r="1.4" fill="#fff" stroke="#000" stroke-width="0.8"></circle>
<circle cx="283.50" cy="310.70" r="1.4" fill="#fff" stroke="#000" stroke-width="0.8"></circle>
<circle cx="333.50" cy="311.50" r="1.4" fill="#fff" stroke="#000" stroke-width="0.8"></circle>
<path d="M233.20,307.10 L283.50,297.02 L333.50,287.50" fill="none" stroke="#222" stroke-width="1"></path>
<line x1="333.50" y1="284.70" x2="333.50" y2="287.50" stroke="#222" stroke-width="0.9"></line>
<line x1="331.90" y1="284.70" x2="335.10" y2="284.70" stroke="#222" stroke-width="0.9"></line>
<line x1="333.50" y1="287.50" x2="333.50" y2="290.30" stroke="#222" stroke-width="0.9"></line>
<line x1="331.90" y1="290.30" x2="335.10" y2="290.30" stroke="#222" stroke-width="0.9"></line>
<path d="M231.40,308.30 L233.20,305.30 L235.00,308.30 Z" fill="#000"></path>
<path d="M281.70,298.22 L283.50,295.22 L285.30,298.22 Z" fill="#000"></path>
<path d="M331.70,288.70 L333.50,285.70 L335.30,288.70 Z" fill="#000"></path>
<path d="M233.20,309.50 L283.50,309.10 L333.50,307.90" fill="none" stroke="#222" stroke-width="1" stroke-dasharray="2,1"></path>
<line x1="233.20" y1="308.30" x2="233.20" y2="309.50" stroke="#222" stroke-width="0.9"></line>
<line x1="231.60" y1="308.30" x2="234.80" y2="308.30" stroke="#222" stroke-width="0.9"></line>
<line x1="233.20" y1="309.50" x2="233.20" y2="310.70" stroke="#222" stroke-width="0.9"></line>
<line x1="231.60" y1="310.70" x2="234.80" y2="310.70" stroke="#222" stroke-width="0.9"></line>
<line x1="283.50" y1="306.30" x2="283.50" y2="309.10" stroke="#222" stroke-width="0.9"></line>
<line x1="281.90" y1="306.30" x2="285.10" y2="306.30" stroke="#222" stroke-width="0.9"></line>
<line x1="283.50" y1="309.10" x2="283.50" y2="311.90" stroke="#222" stroke-width="0.9"></line>
<line x1="281.90" y1="311.90" x2="285.10" y2="311.90" stroke="#222" stroke-width="0.9"></line>
<line x1="333.50" y1="303.90" x2="333.50" y2="307.90" stroke="#222" stroke-width="0.9"></line>
<line x1="331.90" y1="303.90" x2="335.10" y2="303.90" stroke="#222" stroke-width="0.9"></line>
<line x1="333.50" y1="307.90" x2="333.50" y2="311.90" stroke="#222" stroke-width="0.9"></line>
<line x1="331.90" y1="311.90" x2="335.10" y2="311.90" stroke="#222" stroke-width="0.9"></line>
<path d="M231.40,310.70 L233.20,307.70 L235.00,310.70 Z" fill="#000"></path>
<path d="M281.70,310.30 L283.50,307.30 L285.30,310.30 Z" fill="#000"></path>
<path d="M331.70,309.10 L333.50,306.10 L335.30,309.10 Z" fill="#000"></path>
<path d="M330.05,232.30L330.05,237.10M327.97,233.50L332.13,235.90M332.13,233.50L327.97,235.90" stroke="#111" stroke-width="1.05" fill="none"></path>
<path d="M336.35,232.30L336.35,237.10M334.27,233.50L338.43,235.90M338.43,233.50L334.27,235.90" stroke="#111" stroke-width="1.05" fill="none"></path>
<path d="M330.05,275.30L330.05,280.10M327.97,276.50L332.13,278.90M332.13,276.50L327.97,278.90" stroke="#111" stroke-width="1.05" fill="none"></path>
<path d="M336.35,275.30L336.35,280.10M334.27,276.50L338.43,278.90M338.43,276.50L334.27,278.90" stroke="#111" stroke-width="1.05" fill="none"></path>
<line x1="378.50" y1="219.00" x2="378.50" y2="320.00" stroke="#555" stroke-width="1"></line>
<line x1="375.00" y1="319.50" x2="378.50" y2="319.50" stroke="#555" stroke-width="1"></line>
<text x="373.60" y="321.80" font-size="8.96" text-anchor="end" fill="#111" stroke="#111" stroke-width="0.26" textLength="4.63" lengthAdjust="spacingAndGlyphs">0</text>
<line x1="375.00" y1="299.50" x2="378.50" y2="299.50" stroke="#555" stroke-width="1"></line>
<text x="373.60" y="301.80" font-size="8.96" text-anchor="end" fill="#111" stroke="#111" stroke-width="0.26" textLength="10.6" lengthAdjust="spacingAndGlyphs">0.5</text>
<line x1="375.00" y1="279.50" x2="378.50" y2="279.50" stroke="#555" stroke-width="1"></line>
<text x="373.60" y="281.80" font-size="8.96" text-anchor="end" fill="#111" stroke="#111" stroke-width="0.26" textLength="10.6" lengthAdjust="spacingAndGlyphs">1.0</text>
<line x1="375.00" y1="259.50" x2="378.50" y2="259.50" stroke="#555" stroke-width="1"></line>
<text x="373.60" y="261.80" font-size="8.96" text-anchor="end" fill="#111" stroke="#111" stroke-width="0.26" textLength="10.6" lengthAdjust="spacingAndGlyphs">1.5</text>
<line x1="375.00" y1="239.50" x2="378.50" y2="239.50" stroke="#555" stroke-width="1"></line>
<text x="373.60" y="241.80" font-size="8.96" text-anchor="end" fill="#111" stroke="#111" stroke-width="0.26" textLength="10.6" lengthAdjust="spacingAndGlyphs">2.0</text>
<line x1="375.00" y1="219.50" x2="378.50" y2="219.50" stroke="#555" stroke-width="1"></line>
<text x="373.60" y="221.80" font-size="8.96" text-anchor="end" fill="#111" stroke="#111" stroke-width="0.26" textLength="10.6" lengthAdjust="spacingAndGlyphs">2.5</text>
<line x1="378.50" y1="319.50" x2="510.50" y2="319.50" stroke="#555" stroke-width="1"></line>
<line x1="403.50" y1="320.00" x2="403.50" y2="323.00" stroke="#555" stroke-width="1"></line>
<text x="403.30" y="332.40" font-size="8.21" text-anchor="middle" fill="#111" stroke="#111" stroke-width="0.26" textLength="10.56" lengthAdjust="spacingAndGlyphs">0.2</text>
<line x1="453.50" y1="320.00" x2="453.50" y2="323.00" stroke="#555" stroke-width="1"></line>
<text x="453.10" y="332.40" font-size="8.21" text-anchor="middle" fill="#111" stroke="#111" stroke-width="0.26" textLength="4.23" lengthAdjust="spacingAndGlyphs">1</text>
<line x1="502.50" y1="320.00" x2="502.50" y2="323.00" stroke="#555" stroke-width="1"></line>
<text x="502.70" y="332.40" font-size="8.21" text-anchor="middle" fill="#111" stroke="#111" stroke-width="0.26" textLength="4.23" lengthAdjust="spacingAndGlyphs">5</text>
<text x="0.00" y="0.00" font-size="8.1" text-anchor="middle" fill="#111" stroke="#111" stroke-width="0.26" textLength="98" lengthAdjust="spacingAndGlyphs" data-noscale="1" transform="translate(357.90000000000003,269.5) rotate(-90)">CLR-Fc binding (OD 450 nm)</text>
<text x="442.60" y="214.20" font-size="8.64" text-anchor="middle" fill="#111" stroke="#111" stroke-width="0.26" textLength="72.8" lengthAdjust="spacingAndGlyphs">DC-SIGN-Fc binding</text>
<text x="443.30" y="342.70" font-size="8.64" text-anchor="middle" fill="#111" stroke="#111" stroke-width="0.26" textLength="107" lengthAdjust="spacingAndGlyphs">SAG coat concentration (µg/ml)</text>
<path d="M403.30,294.82 L453.10,256.62 L502.70,251.06" fill="none" stroke="#222" stroke-width="1"></path>
<line x1="403.30" y1="285.22" x2="403.30" y2="294.82" stroke="#222" stroke-width="0.9"></line>
<line x1="401.70" y1="285.22" x2="404.90" y2="285.22" stroke="#222" stroke-width="0.9"></line>
<line x1="403.30" y1="294.82" x2="403.30" y2="304.42" stroke="#222" stroke-width="0.9"></line>
<line x1="401.70" y1="304.42" x2="404.90" y2="304.42" stroke="#222" stroke-width="0.9"></line>
<line x1="453.10" y1="236.62" x2="453.10" y2="256.62" stroke="#222" stroke-width="0.9"></line>
<line x1="451.50" y1="236.62" x2="454.70" y2="236.62" stroke="#222" stroke-width="0.9"></line>
<line x1="453.10" y1="256.62" x2="453.10" y2="276.62" stroke="#222" stroke-width="0.9"></line>
<line x1="451.50" y1="276.62" x2="454.70" y2="276.62" stroke="#222" stroke-width="0.9"></line>
<line x1="502.70" y1="240.26" x2="502.70" y2="251.06" stroke="#222" stroke-width="0.9"></line>
<line x1="501.10" y1="240.26" x2="504.30" y2="240.26" stroke="#222" stroke-width="0.9"></line>
<line x1="502.70" y1="251.06" x2="502.70" y2="261.86" stroke="#222" stroke-width="0.9"></line>
<line x1="501.10" y1="261.86" x2="504.30" y2="261.86" stroke="#222" stroke-width="0.9"></line>
<circle cx="403.30" cy="294.82" r="1.8" fill="#000"></circle>
<circle cx="453.10" cy="256.62" r="1.8" fill="#000"></circle>
<circle cx="502.70" cy="251.06" r="1.8" fill="#000"></circle>
<path d="M403.30,317.50 L453.10,317.50 L502.70,317.50" fill="none" stroke="#222" stroke-width="1" stroke-dasharray="2,1"></path>
<circle cx="403.30" cy="317.50" r="1.4" fill="#fff" stroke="#000" stroke-width="0.8"></circle>
<circle cx="453.10" cy="317.50" r="1.4" fill="#fff" stroke="#000" stroke-width="0.8"></circle>
<circle cx="502.70" cy="317.50" r="1.4" fill="#fff" stroke="#000" stroke-width="0.8"></circle>
<path d="M403.30,304.38 L453.10,301.30 L502.70,297.90" fill="none" stroke="#222" stroke-width="1"></path>
<line x1="403.30" y1="296.38" x2="403.30" y2="304.38" stroke="#222" stroke-width="0.9"></line>
<line x1="401.70" y1="296.38" x2="404.90" y2="296.38" stroke="#222" stroke-width="0.9"></line>
<line x1="403.30" y1="304.38" x2="403.30" y2="312.38" stroke="#222" stroke-width="0.9"></line>
<line x1="401.70" y1="312.38" x2="404.90" y2="312.38" stroke="#222" stroke-width="0.9"></line>
<line x1="453.10" y1="297.30" x2="453.10" y2="301.30" stroke="#222" stroke-width="0.9"></line>
<line x1="451.50" y1="297.30" x2="454.70" y2="297.30" stroke="#222" stroke-width="0.9"></line>
<line x1="453.10" y1="301.30" x2="453.10" y2="305.30" stroke="#222" stroke-width="0.9"></line>
<line x1="451.50" y1="305.30" x2="454.70" y2="305.30" stroke="#222" stroke-width="0.9"></line>
<line x1="502.70" y1="293.50" x2="502.70" y2="297.90" stroke="#222" stroke-width="0.9"></line>
<line x1="501.10" y1="293.50" x2="504.30" y2="293.50" stroke="#222" stroke-width="0.9"></line>
<line x1="502.70" y1="297.90" x2="502.70" y2="302.30" stroke="#222" stroke-width="0.9"></line>
<line x1="501.10" y1="302.30" x2="504.30" y2="302.30" stroke="#222" stroke-width="0.9"></line>
<path d="M401.50,305.58 L403.30,302.58 L405.10,305.58 Z" fill="#000"></path>
<path d="M451.30,302.50 L453.10,299.50 L454.90,302.50 Z" fill="#000"></path>
<path d="M500.90,299.10 L502.70,296.10 L504.50,299.10 Z" fill="#000"></path>
<path d="M403.30,317.10 L453.10,317.10 L502.70,317.10" fill="none" stroke="#222" stroke-width="1" stroke-dasharray="2,1"></path>
<path d="M401.50,318.30 L403.30,315.30 L405.10,318.30 Z" fill="#000"></path>
<path d="M451.30,318.30 L453.10,315.30 L454.90,318.30 Z" fill="#000"></path>
<path d="M500.90,318.30 L502.70,315.30 L504.50,318.30 Z" fill="#000"></path>
<path d="M446.80,229.10L446.80,233.90M444.72,230.30L448.88,232.70M448.88,230.30L444.72,232.70" stroke="#111" stroke-width="1.05" fill="none"></path>
<path d="M453.10,229.10L453.10,233.90M451.02,230.30L455.18,232.70M455.18,230.30L451.02,232.70" stroke="#111" stroke-width="1.05" fill="none"></path>
<path d="M459.40,229.10L459.40,233.90M457.32,230.30L461.48,232.70M461.48,230.30L457.32,232.70" stroke="#111" stroke-width="1.05" fill="none"></path>
<path d="M496.50,232.10L496.50,236.90M494.42,233.30L498.58,235.70M498.58,233.30L494.42,235.70" stroke="#111" stroke-width="1.05" fill="none"></path>
<path d="M502.80,232.10L502.80,236.90M500.72,233.30L504.88,235.70M504.88,233.30L500.72,235.70" stroke="#111" stroke-width="1.05" fill="none"></path>
<path d="M509.10,232.10L509.10,236.90M507.02,233.30L511.18,235.70M511.18,233.30L507.02,235.70" stroke="#111" stroke-width="1.05" fill="none"></path>
<text x="504.30" y="288.20" font-size="8.21" text-anchor="middle" fill="#111" stroke="#111" stroke-width="0.26" textLength="10.56" lengthAdjust="spacingAndGlyphs">NS</text>
<line x1="36.50" y1="372.00" x2="36.50" y2="472.00" stroke="#555" stroke-width="1"></line>
<line x1="33.00" y1="471.50" x2="36.50" y2="471.50" stroke="#555" stroke-width="1"></line>
<text x="31.60" y="473.80" font-size="8.96" text-anchor="end" fill="#111" stroke="#111" stroke-width="0.26" textLength="4.63" lengthAdjust="spacingAndGlyphs">0</text>
<line x1="33.00" y1="451.50" x2="36.50" y2="451.50" stroke="#555" stroke-width="1"></line>
<text x="31.60" y="453.80" font-size="8.96" text-anchor="end" fill="#111" stroke="#111" stroke-width="0.26" textLength="10.6" lengthAdjust="spacingAndGlyphs">0.5</text>
<line x1="33.00" y1="431.50" x2="36.50" y2="431.50" stroke="#555" stroke-width="1"></line>
<text x="31.60" y="433.80" font-size="8.96" text-anchor="end" fill="#111" stroke="#111" stroke-width="0.26" textLength="10.6" lengthAdjust="spacingAndGlyphs">1.0</text>
<line x1="33.00" y1="412.50" x2="36.50" y2="412.50" stroke="#555" stroke-width="1"></line>
<text x="31.60" y="414.80" font-size="8.96" text-anchor="end" fill="#111" stroke="#111" stroke-width="0.26" textLength="10.6" lengthAdjust="spacingAndGlyphs">1.5</text>
<line x1="33.00" y1="392.50" x2="36.50" y2="392.50" stroke="#555" stroke-width="1"></line>
<text x="31.60" y="394.80" font-size="8.96" text-anchor="end" fill="#111" stroke="#111" stroke-width="0.26" textLength="10.6" lengthAdjust="spacingAndGlyphs">2.0</text>
<line x1="33.00" y1="372.50" x2="36.50" y2="372.50" stroke="#555" stroke-width="1"></line>
<text x="31.60" y="374.80" font-size="8.96" text-anchor="end" fill="#111" stroke="#111" stroke-width="0.26" textLength="10.6" lengthAdjust="spacingAndGlyphs">2.5</text>
<line x1="36.50" y1="471.50" x2="174.80" y2="471.50" stroke="#555" stroke-width="1"></line>
<line x1="55.50" y1="472.00" x2="55.50" y2="475.00" stroke="#555" stroke-width="1"></line>
<text x="55.40" y="484.40" font-size="8.21" text-anchor="middle" fill="#111" stroke="#111" stroke-width="0.26" textLength="25.34" lengthAdjust="spacingAndGlyphs">1:1,250</text>
<line x1="92.50" y1="472.00" x2="92.50" y2="475.00" stroke="#555" stroke-width="1"></line>
<text x="92.80" y="484.40" font-size="8.21" text-anchor="middle" fill="#111" stroke="#111" stroke-width="0.26" textLength="19.02" lengthAdjust="spacingAndGlyphs">1:250</text>
<line x1="129.50" y1="472.00" x2="129.50" y2="475.00" stroke="#555" stroke-width="1"></line>
<text x="129.80" y="484.40" font-size="8.21" text-anchor="middle" fill="#111" stroke="#111" stroke-width="0.26" textLength="14.78" lengthAdjust="spacingAndGlyphs">1:50</text>
<line x1="167.50" y1="472.00" x2="167.50" y2="475.00" stroke="#555" stroke-width="1"></line>
<text x="167.20" y="484.40" font-size="8.21" text-anchor="middle" fill="#111" stroke="#111" stroke-width="0.26" textLength="14.78" lengthAdjust="spacingAndGlyphs">1:10</text>
<text x="0.00" y="0.00" font-size="8.1" text-anchor="middle" fill="#111" stroke="#111" stroke-width="0.26" textLength="98" lengthAdjust="spacingAndGlyphs" data-noscale="1" transform="translate(15.3,421.5) rotate(-90)">CLR-Fc binding (OD 450 nm)</text>
<text x="105.60" y="363.50" font-size="8.64" text-anchor="middle" fill="#111" stroke="#111" stroke-width="0.26" textLength="70" lengthAdjust="spacingAndGlyphs">Langerin-Fc binding</text>
<text x="105.60" y="495.70" font-size="8.64" text-anchor="middle" fill="#111" stroke="#111" stroke-width="0.26" textLength="75.8" lengthAdjust="spacingAndGlyphs">Parotid saliva dilution</text>
<path d="M55.40,447.11 L92.80,443.42 L129.80,435.19 L167.20,425.72" fill="none" stroke="#222" stroke-width="1"></path>
<line x1="55.40" y1="445.92" x2="55.40" y2="447.11" stroke="#222" stroke-width="0.9"></line>
<line x1="53.80" y1="445.92" x2="57.00" y2="445.92" stroke="#222" stroke-width="0.9"></line>
<line x1="55.40" y1="447.11" x2="55.40" y2="448.29" stroke="#222" stroke-width="0.9"></line>
<line x1="53.80" y1="448.29" x2="57.00" y2="448.29" stroke="#222" stroke-width="0.9"></line>
<line x1="92.80" y1="441.05" x2="92.80" y2="443.42" stroke="#222" stroke-width="0.9"></line>
<line x1="91.20" y1="441.05" x2="94.40" y2="441.05" stroke="#222" stroke-width="0.9"></line>
<line x1="92.80" y1="443.42" x2="92.80" y2="445.80" stroke="#222" stroke-width="0.9"></line>
<line x1="91.20" y1="445.80" x2="94.40" y2="445.80" stroke="#222" stroke-width="0.9"></line>
<line x1="129.80" y1="433.60" x2="129.80" y2="435.19" stroke="#222" stroke-width="0.9"></line>
<line x1="128.20" y1="433.60" x2="131.40" y2="433.60" stroke="#222" stroke-width="0.9"></line>
<line x1="129.80" y1="435.19" x2="129.80" y2="436.77" stroke="#222" stroke-width="0.9"></line>
<line x1="128.20" y1="436.77" x2="131.40" y2="436.77" stroke="#222" stroke-width="0.9"></line>
<line x1="167.20" y1="422.55" x2="167.20" y2="425.72" stroke="#222" stroke-width="0.9"></line>
<line x1="165.60" y1="422.55" x2="168.80" y2="422.55" stroke="#222" stroke-width="0.9"></line>
<line x1="167.20" y1="425.72" x2="167.20" y2="428.89" stroke="#222" stroke-width="0.9"></line>
<line x1="165.60" y1="428.89" x2="168.80" y2="428.89" stroke="#222" stroke-width="0.9"></line>
<circle cx="55.40" cy="447.11" r="1.8" fill="#000"></circle>
<circle cx="92.80" cy="443.42" r="1.8" fill="#000"></circle>
<circle cx="129.80" cy="435.19" r="1.8" fill="#000"></circle>
<circle cx="167.20" cy="425.72" r="1.8" fill="#000"></circle>
<path d="M55.40,456.45 L92.80,454.67 L129.80,450.99 L167.20,452.61" fill="none" stroke="#222" stroke-width="1" stroke-dasharray="2,1"></path>
<line x1="55.40" y1="455.26" x2="55.40" y2="456.45" stroke="#222" stroke-width="0.9"></line>
<line x1="53.80" y1="455.26" x2="57.00" y2="455.26" stroke="#222" stroke-width="0.9"></line>
<line x1="55.40" y1="456.45" x2="55.40" y2="457.64" stroke="#222" stroke-width="0.9"></line>
<line x1="53.80" y1="457.64" x2="57.00" y2="457.64" stroke="#222" stroke-width="0.9"></line>
<line x1="92.80" y1="452.69" x2="92.80" y2="454.67" stroke="#222" stroke-width="0.9"></line>
<line x1="91.20" y1="452.69" x2="94.40" y2="452.69" stroke="#222" stroke-width="0.9"></line>
<line x1="92.80" y1="454.67" x2="92.80" y2="456.65" stroke="#222" stroke-width="0.9"></line>
<line x1="91.20" y1="456.65" x2="94.40" y2="456.65" stroke="#222" stroke-width="0.9"></line>
<line x1="129.80" y1="449.40" x2="129.80" y2="450.99" stroke="#222" stroke-width="0.9"></line>
<line x1="128.20" y1="449.40" x2="131.40" y2="449.40" stroke="#222" stroke-width="0.9"></line>
<line x1="129.80" y1="450.99" x2="129.80" y2="452.57" stroke="#222" stroke-width="0.9"></line>
<line x1="128.20" y1="452.57" x2="131.40" y2="452.57" stroke="#222" stroke-width="0.9"></line>
<line x1="167.20" y1="449.84" x2="167.20" y2="452.61" stroke="#222" stroke-width="0.9"></line>
<line x1="165.60" y1="449.84" x2="168.80" y2="449.84" stroke="#222" stroke-width="0.9"></line>
<line x1="167.20" y1="452.61" x2="167.20" y2="455.38" stroke="#222" stroke-width="0.9"></line>
<line x1="165.60" y1="455.38" x2="168.80" y2="455.38" stroke="#222" stroke-width="0.9"></line>
<circle cx="55.40" cy="456.45" r="1.4" fill="#fff" stroke="#000" stroke-width="0.8"></circle>
<circle cx="92.80" cy="454.67" r="1.4" fill="#fff" stroke="#000" stroke-width="0.8"></circle>
<circle cx="129.80" cy="450.99" r="1.4" fill="#fff" stroke="#000" stroke-width="0.8"></circle>
<circle cx="167.20" cy="452.61" r="1.4" fill="#fff" stroke="#000" stroke-width="0.8"></circle>
<path d="M55.40,448.93 L92.80,448.33 L129.80,443.94 L167.20,445.13" fill="none" stroke="#222" stroke-width="1"></path>
<line x1="55.40" y1="447.74" x2="55.40" y2="448.93" stroke="#222" stroke-width="0.9"></line>
<line x1="53.80" y1="447.74" x2="57.00" y2="447.74" stroke="#222" stroke-width="0.9"></line>
<line x1="55.40" y1="448.93" x2="55.40" y2="450.12" stroke="#222" stroke-width="0.9"></line>
<line x1="53.80" y1="450.12" x2="57.00" y2="450.12" stroke="#222" stroke-width="0.9"></line>
<line x1="92.80" y1="445.96" x2="92.80" y2="448.33" stroke="#222" stroke-width="0.9"></line>
<line x1="91.20" y1="445.96" x2="94.40" y2="445.96" stroke="#222" stroke-width="0.9"></line>
<line x1="92.80" y1="448.33" x2="92.80" y2="450.71" stroke="#222" stroke-width="0.9"></line>
<line x1="91.20" y1="450.71" x2="94.40" y2="450.71" stroke="#222" stroke-width="0.9"></line>
<line x1="129.80" y1="439.98" x2="129.80" y2="443.94" stroke="#222" stroke-width="0.9"></line>
<line x1="128.20" y1="439.98" x2="131.40" y2="439.98" stroke="#222" stroke-width="0.9"></line>
<line x1="129.80" y1="443.94" x2="129.80" y2="447.90" stroke="#222" stroke-width="0.9"></line>
<line x1="128.20" y1="447.90" x2="131.40" y2="447.90" stroke="#222" stroke-width="0.9"></line>
<line x1="167.20" y1="435.23" x2="167.20" y2="445.13" stroke="#222" stroke-width="0.9"></line>
<line x1="165.60" y1="435.23" x2="168.80" y2="435.23" stroke="#222" stroke-width="0.9"></line>
<line x1="167.20" y1="445.13" x2="167.20" y2="455.03" stroke="#222" stroke-width="0.9"></line>
<line x1="165.60" y1="455.03" x2="168.80" y2="455.03" stroke="#222" stroke-width="0.9"></line>
<path d="M53.60,450.13 L55.40,447.13 L57.20,450.13 Z" fill="#000"></path>
<path d="M91.00,449.53 L92.80,446.53 L94.60,449.53 Z" fill="#000"></path>
<path d="M128.00,445.14 L129.80,442.14 L131.60,445.14 Z" fill="#000"></path>
<path d="M165.40,446.33 L167.20,443.33 L169.00,446.33 Z" fill="#000"></path>
<path d="M55.40,459.38 L92.80,458.35 L129.80,456.37 L167.20,456.37" fill="none" stroke="#222" stroke-width="1" stroke-dasharray="2,1"></path>
<line x1="55.40" y1="458.19" x2="55.40" y2="459.38" stroke="#222" stroke-width="0.9"></line>
<line x1="53.80" y1="458.19" x2="57.00" y2="458.19" stroke="#222" stroke-width="0.9"></line>
<line x1="55.40" y1="459.38" x2="55.40" y2="460.57" stroke="#222" stroke-width="0.9"></line>
<line x1="53.80" y1="460.57" x2="57.00" y2="460.57" stroke="#222" stroke-width="0.9"></line>
<line x1="92.80" y1="455.98" x2="92.80" y2="458.35" stroke="#222" stroke-width="0.9"></line>
<line x1="91.20" y1="455.98" x2="94.40" y2="455.98" stroke="#222" stroke-width="0.9"></line>
<line x1="92.80" y1="458.35" x2="92.80" y2="460.73" stroke="#222" stroke-width="0.9"></line>
<line x1="91.20" y1="460.73" x2="94.40" y2="460.73" stroke="#222" stroke-width="0.9"></line>
<line x1="129.80" y1="454.79" x2="129.80" y2="456.37" stroke="#222" stroke-width="0.9"></line>
<line x1="128.20" y1="454.79" x2="131.40" y2="454.79" stroke="#222" stroke-width="0.9"></line>
<line x1="129.80" y1="456.37" x2="129.80" y2="457.96" stroke="#222" stroke-width="0.9"></line>
<line x1="128.20" y1="457.96" x2="131.40" y2="457.96" stroke="#222" stroke-width="0.9"></line>
<line x1="167.20" y1="455.18" x2="167.20" y2="456.37" stroke="#222" stroke-width="0.9"></line>
<line x1="165.60" y1="455.18" x2="168.80" y2="455.18" stroke="#222" stroke-width="0.9"></line>
<line x1="167.20" y1="456.37" x2="167.20" y2="457.56" stroke="#222" stroke-width="0.9"></line>
<line x1="165.60" y1="457.56" x2="168.80" y2="457.56" stroke="#222" stroke-width="0.9"></line>
<path d="M53.60,460.58 L55.40,457.58 L57.20,460.58 Z" fill="#000"></path>
<path d="M91.00,459.55 L92.80,456.55 L94.60,459.55 Z" fill="#000"></path>
<path d="M128.00,457.57 L129.80,454.57 L131.60,457.57 Z" fill="#000"></path>
<path d="M165.40,457.57 L167.20,454.57 L169.00,457.57 Z" fill="#000"></path>
<path d="M93.00,433.10L93.00,437.90M90.92,434.30L95.08,436.70M95.08,434.30L90.92,436.70" stroke="#111" stroke-width="1.05" fill="none"></path>
<path d="M126.65,425.10L126.65,429.90M124.57,426.30L128.73,428.70M128.73,426.30L124.57,428.70" stroke="#111" stroke-width="1.05" fill="none"></path>
<path d="M132.95,425.10L132.95,429.90M130.87,426.30L135.03,428.70M135.03,426.30L130.87,428.70" stroke="#111" stroke-width="1.05" fill="none"></path>
<path d="M160.70,413.20L160.70,418.00M158.62,414.40L162.78,416.80M162.78,414.40L158.62,416.80" stroke="#111" stroke-width="1.05" fill="none"></path>
<path d="M167.00,413.20L167.00,418.00M164.92,414.40L169.08,416.80M169.08,414.40L164.92,416.80" stroke="#111" stroke-width="1.05" fill="none"></path>
<path d="M173.30,413.20L173.30,418.00M171.22,414.40L175.38,416.80M175.38,414.40L171.22,416.80" stroke="#111" stroke-width="1.05" fill="none"></path>
<line x1="208.50" y1="372.00" x2="208.50" y2="472.00" stroke="#555" stroke-width="1"></line>
<line x1="205.00" y1="471.50" x2="208.50" y2="471.50" stroke="#555" stroke-width="1"></line>
<text x="203.60" y="473.80" font-size="8.96" text-anchor="end" fill="#111" stroke="#111" stroke-width="0.26" textLength="4.63" lengthAdjust="spacingAndGlyphs">0</text>
<line x1="205.00" y1="451.50" x2="208.50" y2="451.50" stroke="#555" stroke-width="1"></line>
<text x="203.60" y="453.80" font-size="8.96" text-anchor="end" fill="#111" stroke="#111" stroke-width="0.26" textLength="10.6" lengthAdjust="spacingAndGlyphs">0.5</text>
<line x1="205.00" y1="431.50" x2="208.50" y2="431.50" stroke="#555" stroke-width="1"></line>
<text x="203.60" y="433.80" font-size="8.96" text-anchor="end" fill="#111" stroke="#111" stroke-width="0.26" textLength="10.6" lengthAdjust="spacingAndGlyphs">1.0</text>
<line x1="205.00" y1="412.50" x2="208.50" y2="412.50" stroke="#555" stroke-width="1"></line>
<text x="203.60" y="414.80" font-size="8.96" text-anchor="end" fill="#111" stroke="#111" stroke-width="0.26" textLength="10.6" lengthAdjust="spacingAndGlyphs">1.5</text>
<line x1="205.00" y1="392.50" x2="208.50" y2="392.50" stroke="#555" stroke-width="1"></line>
<text x="203.60" y="394.80" font-size="8.96" text-anchor="end" fill="#111" stroke="#111" stroke-width="0.26" textLength="10.6" lengthAdjust="spacingAndGlyphs">2.0</text>
<line x1="205.00" y1="372.50" x2="208.50" y2="372.50" stroke="#555" stroke-width="1"></line>
<text x="203.60" y="374.80" font-size="8.96" text-anchor="end" fill="#111" stroke="#111" stroke-width="0.26" textLength="10.6" lengthAdjust="spacingAndGlyphs">2.5</text>
<line x1="208.50" y1="471.50" x2="341.00" y2="471.50" stroke="#555" stroke-width="1"></line>
<line x1="233.50" y1="472.00" x2="233.50" y2="475.00" stroke="#555" stroke-width="1"></line>
<text x="233.30" y="484.40" font-size="8.21" text-anchor="middle" fill="#111" stroke="#111" stroke-width="0.26" textLength="25.34" lengthAdjust="spacingAndGlyphs">1:2,500</text>
<line x1="283.50" y1="472.00" x2="283.50" y2="475.00" stroke="#555" stroke-width="1"></line>
<text x="283.50" y="484.40" font-size="8.21" text-anchor="middle" fill="#111" stroke="#111" stroke-width="0.26" textLength="19.02" lengthAdjust="spacingAndGlyphs">1:500</text>
<line x1="333.50" y1="472.00" x2="333.50" y2="475.00" stroke="#555" stroke-width="1"></line>
<text x="333.40" y="484.40" font-size="8.21" text-anchor="middle" fill="#111" stroke="#111" stroke-width="0.26" textLength="19.02" lengthAdjust="spacingAndGlyphs">1:100</text>
<text x="0.00" y="0.00" font-size="8.1" text-anchor="middle" fill="#111" stroke="#111" stroke-width="0.26" textLength="98" lengthAdjust="spacingAndGlyphs" data-noscale="1" transform="translate(187.10000000000002,421.5) rotate(-90)">CLR-Fc binding (OD 450 nm)</text>
<text x="273.80" y="363.50" font-size="8.64" text-anchor="middle" fill="#111" stroke="#111" stroke-width="0.26" textLength="70" lengthAdjust="spacingAndGlyphs">Langerin-Fc binding</text>
<text x="273.80" y="495.70" font-size="8.64" text-anchor="middle" fill="#111" stroke="#111" stroke-width="0.26" textLength="44" lengthAdjust="spacingAndGlyphs">SAG dilution</text>
<path d="M233.30,445.56 L283.50,439.62 L333.40,421.21" fill="none" stroke="#222" stroke-width="1"></path>
<line x1="233.30" y1="440.81" x2="233.30" y2="445.56" stroke="#222" stroke-width="0.9"></line>
<line x1="231.70" y1="440.81" x2="234.90" y2="440.81" stroke="#222" stroke-width="0.9"></line>
<line x1="283.50" y1="428.93" x2="283.50" y2="439.62" stroke="#222" stroke-width="0.9"></line>
<line x1="281.90" y1="428.93" x2="285.10" y2="428.93" stroke="#222" stroke-width="0.9"></line>
<line x1="333.40" y1="405.37" x2="333.40" y2="421.21" stroke="#222" stroke-width="0.9"></line>
<line x1="331.80" y1="405.37" x2="335.00" y2="405.37" stroke="#222" stroke-width="0.9"></line>
<rect x="231.70" y="443.96" width="3.2" height="3.2" fill="#000"></rect>
<rect x="281.90" y="438.02" width="3.2" height="3.2" fill="#000"></rect>
<rect x="331.80" y="419.61" width="3.2" height="3.2" fill="#000"></rect>
<path d="M233.30,460.02 L283.50,459.22 L333.40,458.04" fill="none" stroke="#222" stroke-width="1" stroke-dasharray="2,1"></path>
<line x1="233.30" y1="457.64" x2="233.30" y2="460.02" stroke="#222" stroke-width="0.9"></line>
<line x1="231.70" y1="457.64" x2="234.90" y2="457.64" stroke="#222" stroke-width="0.9"></line>
<line x1="233.30" y1="460.02" x2="233.30" y2="462.39" stroke="#222" stroke-width="0.9"></line>
<line x1="231.70" y1="462.39" x2="234.90" y2="462.39" stroke="#222" stroke-width="0.9"></line>
<line x1="283.50" y1="456.85" x2="283.50" y2="459.22" stroke="#222" stroke-width="0.9"></line>
<line x1="281.90" y1="456.85" x2="285.10" y2="456.85" stroke="#222" stroke-width="0.9"></line>
<line x1="283.50" y1="459.22" x2="283.50" y2="461.60" stroke="#222" stroke-width="0.9"></line>
<line x1="281.90" y1="461.60" x2="285.10" y2="461.60" stroke="#222" stroke-width="0.9"></line>
<line x1="333.40" y1="456.06" x2="333.40" y2="458.04" stroke="#222" stroke-width="0.9"></line>
<line x1="331.80" y1="456.06" x2="335.00" y2="456.06" stroke="#222" stroke-width="0.9"></line>
<line x1="333.40" y1="458.04" x2="333.40" y2="460.02" stroke="#222" stroke-width="0.9"></line>
<line x1="331.80" y1="460.02" x2="335.00" y2="460.02" stroke="#222" stroke-width="0.9"></line>
<circle cx="233.30" cy="460.02" r="1.4" fill="#fff" stroke="#000" stroke-width="0.8"></circle>
<circle cx="283.50" cy="459.22" r="1.4" fill="#fff" stroke="#000" stroke-width="0.8"></circle>
<circle cx="333.40" cy="458.04" r="1.4" fill="#fff" stroke="#000" stroke-width="0.8"></circle>
<path d="M233.30,454.87 L283.50,454.87 L333.40,454.87" fill="none" stroke="#222" stroke-width="1"></path>
<line x1="233.30" y1="452.10" x2="233.30" y2="454.87" stroke="#222" stroke-width="0.9"></line>
<line x1="231.70" y1="452.10" x2="234.90" y2="452.10" stroke="#222" stroke-width="0.9"></line>
<line x1="233.30" y1="454.87" x2="233.30" y2="457.64" stroke="#222" stroke-width="0.9"></line>
<line x1="231.70" y1="457.64" x2="234.90" y2="457.64" stroke="#222" stroke-width="0.9"></line>
<line x1="283.50" y1="451.70" x2="283.50" y2="454.87" stroke="#222" stroke-width="0.9"></line>
<line x1="281.90" y1="451.70" x2="285.10" y2="451.70" stroke="#222" stroke-width="0.9"></line>
<line x1="283.50" y1="454.87" x2="283.50" y2="458.04" stroke="#222" stroke-width="0.9"></line>
<line x1="281.90" y1="458.04" x2="285.10" y2="458.04" stroke="#222" stroke-width="0.9"></line>
<line x1="333.40" y1="452.10" x2="333.40" y2="454.87" stroke="#222" stroke-width="0.9"></line>
<line x1="331.80" y1="452.10" x2="335.00" y2="452.10" stroke="#222" stroke-width="0.9"></line>
<line x1="333.40" y1="454.87" x2="333.40" y2="457.64" stroke="#222" stroke-width="0.9"></line>
<line x1="331.80" y1="457.64" x2="335.00" y2="457.64" stroke="#222" stroke-width="0.9"></line>
<path d="M231.50,456.07 L233.30,453.07 L235.10,456.07 Z" fill="#000"></path>
<path d="M281.70,456.07 L283.50,453.07 L285.30,456.07 Z" fill="#000"></path>
<path d="M331.60,456.07 L333.40,453.07 L335.20,456.07 Z" fill="#000"></path>
<path d="M233.30,455.66 L283.50,454.87 L333.40,453.68" fill="none" stroke="#222" stroke-width="1" stroke-dasharray="2,1"></path>
<line x1="233.30" y1="454.47" x2="233.30" y2="455.66" stroke="#222" stroke-width="0.9"></line>
<line x1="231.70" y1="454.47" x2="234.90" y2="454.47" stroke="#222" stroke-width="0.9"></line>
<line x1="233.30" y1="455.66" x2="233.30" y2="456.85" stroke="#222" stroke-width="0.9"></line>
<line x1="231.70" y1="456.85" x2="234.90" y2="456.85" stroke="#222" stroke-width="0.9"></line>
<line x1="283.50" y1="452.89" x2="283.50" y2="454.87" stroke="#222" stroke-width="0.9"></line>
<line x1="281.90" y1="452.89" x2="285.10" y2="452.89" stroke="#222" stroke-width="0.9"></line>
<line x1="283.50" y1="454.87" x2="283.50" y2="456.85" stroke="#222" stroke-width="0.9"></line>
<line x1="281.90" y1="456.85" x2="285.10" y2="456.85" stroke="#222" stroke-width="0.9"></line>
<line x1="333.40" y1="451.70" x2="333.40" y2="453.68" stroke="#222" stroke-width="0.9"></line>
<line x1="331.80" y1="451.70" x2="335.00" y2="451.70" stroke="#222" stroke-width="0.9"></line>
<line x1="333.40" y1="453.68" x2="333.40" y2="455.66" stroke="#222" stroke-width="0.9"></line>
<line x1="331.80" y1="455.66" x2="335.00" y2="455.66" stroke="#222" stroke-width="0.9"></line>
<path d="M231.50,456.86 L233.30,453.86 L235.10,456.86 Z" fill="#000"></path>
<path d="M281.70,456.07 L283.50,453.07 L285.30,456.07 Z" fill="#000"></path>
<path d="M331.60,454.88 L333.40,451.88 L335.20,454.88 Z" fill="#000"></path>
<path d="M330.25,396.90L330.25,401.70M328.17,398.10L332.33,400.50M332.33,398.10L328.17,400.50" stroke="#111" stroke-width="1.05" fill="none"></path>
<path d="M336.55,396.90L336.55,401.70M334.47,398.10L338.63,400.50M338.63,398.10L334.47,400.50" stroke="#111" stroke-width="1.05" fill="none"></path>
<line x1="378.50" y1="372.00" x2="378.50" y2="472.00" stroke="#555" stroke-width="1"></line>
<line x1="375.00" y1="471.50" x2="378.50" y2="471.50" stroke="#555" stroke-width="1"></line>
<text x="373.60" y="473.80" font-size="8.96" text-anchor="end" fill="#111" stroke="#111" stroke-width="0.26" textLength="4.63" lengthAdjust="spacingAndGlyphs">0</text>
<line x1="375.00" y1="451.50" x2="378.50" y2="451.50" stroke="#555" stroke-width="1"></line>
<text x="373.60" y="453.80" font-size="8.96" text-anchor="end" fill="#111" stroke="#111" stroke-width="0.26" textLength="10.6" lengthAdjust="spacingAndGlyphs">0.5</text>
<line x1="375.00" y1="431.50" x2="378.50" y2="431.50" stroke="#555" stroke-width="1"></line>
<text x="373.60" y="433.80" font-size="8.96" text-anchor="end" fill="#111" stroke="#111" stroke-width="0.26" textLength="10.6" lengthAdjust="spacingAndGlyphs">1.0</text>
<line x1="375.00" y1="412.50" x2="378.50" y2="412.50" stroke="#555" stroke-width="1"></line>
<text x="373.60" y="414.80" font-size="8.96" text-anchor="end" fill="#111" stroke="#111" stroke-width="0.26" textLength="10.6" lengthAdjust="spacingAndGlyphs">1.5</text>
<line x1="375.00" y1="392.50" x2="378.50" y2="392.50" stroke="#555" stroke-width="1"></line>
<text x="373.60" y="394.80" font-size="8.96" text-anchor="end" fill="#111" stroke="#111" stroke-width="0.26" textLength="10.6" lengthAdjust="spacingAndGlyphs">2.0</text>
<line x1="375.00" y1="372.50" x2="378.50" y2="372.50" stroke="#555" stroke-width="1"></line>
<text x="373.60" y="374.80" font-size="8.96" text-anchor="end" fill="#111" stroke="#111" stroke-width="0.26" textLength="10.6" lengthAdjust="spacingAndGlyphs">2.5</text>
<line x1="378.50" y1="471.50" x2="510.50" y2="471.50" stroke="#555" stroke-width="1"></line>
<line x1="403.50" y1="472.00" x2="403.50" y2="475.00" stroke="#555" stroke-width="1"></line>
<text x="403.80" y="484.40" font-size="8.21" text-anchor="middle" fill="#111" stroke="#111" stroke-width="0.26" textLength="10.56" lengthAdjust="spacingAndGlyphs">0.2</text>
<line x1="453.50" y1="472.00" x2="453.50" y2="475.00" stroke="#555" stroke-width="1"></line>
<text x="453.10" y="484.40" font-size="8.21" text-anchor="middle" fill="#111" stroke="#111" stroke-width="0.26" textLength="4.23" lengthAdjust="spacingAndGlyphs">1</text>
<line x1="502.50" y1="472.00" x2="502.50" y2="475.00" stroke="#555" stroke-width="1"></line>
<text x="502.50" y="484.40" font-size="8.21" text-anchor="middle" fill="#111" stroke="#111" stroke-width="0.26" textLength="4.23" lengthAdjust="spacingAndGlyphs">5</text>
<text x="0.00" y="0.00" font-size="8.1" text-anchor="middle" fill="#111" stroke="#111" stroke-width="0.26" textLength="98" lengthAdjust="spacingAndGlyphs" data-noscale="1" transform="translate(357.90000000000003,421.5) rotate(-90)">CLR-Fc binding (OD 450 nm)</text>
<text x="444.00" y="363.50" font-size="8.64" text-anchor="middle" fill="#111" stroke="#111" stroke-width="0.26" textLength="70" lengthAdjust="spacingAndGlyphs">Langerin-Fc binding</text>
<text x="444.00" y="495.70" font-size="8.64" text-anchor="middle" fill="#111" stroke="#111" stroke-width="0.26" textLength="107" lengthAdjust="spacingAndGlyphs">SAG coat concentration (µg/ml)</text>
<path d="M403.80,449.72 L453.10,431.50 L502.50,428.34" fill="none" stroke="#222" stroke-width="1"></path>
<line x1="403.80" y1="442.99" x2="403.80" y2="449.72" stroke="#222" stroke-width="0.9"></line>
<line x1="402.20" y1="442.99" x2="405.40" y2="442.99" stroke="#222" stroke-width="0.9"></line>
<line x1="403.80" y1="449.72" x2="403.80" y2="456.45" stroke="#222" stroke-width="0.9"></line>
<line x1="402.20" y1="456.45" x2="405.40" y2="456.45" stroke="#222" stroke-width="0.9"></line>
<line x1="453.10" y1="418.83" x2="453.10" y2="431.50" stroke="#222" stroke-width="0.9"></line>
<line x1="451.50" y1="418.83" x2="454.70" y2="418.83" stroke="#222" stroke-width="0.9"></line>
<line x1="453.10" y1="431.50" x2="453.10" y2="444.18" stroke="#222" stroke-width="0.9"></line>
<line x1="451.50" y1="444.18" x2="454.70" y2="444.18" stroke="#222" stroke-width="0.9"></line>
<line x1="502.50" y1="418.44" x2="502.50" y2="428.34" stroke="#222" stroke-width="0.9"></line>
<line x1="500.90" y1="418.44" x2="504.10" y2="418.44" stroke="#222" stroke-width="0.9"></line>
<line x1="502.50" y1="428.34" x2="502.50" y2="438.24" stroke="#222" stroke-width="0.9"></line>
<line x1="500.90" y1="438.24" x2="504.10" y2="438.24" stroke="#222" stroke-width="0.9"></line>
<circle cx="403.80" cy="449.72" r="1.8" fill="#000"></circle>
<circle cx="453.10" cy="431.50" r="1.8" fill="#000"></circle>
<circle cx="502.50" cy="428.34" r="1.8" fill="#000"></circle>
<path d="M403.80,462.79 L453.10,461.60 L502.50,461.60" fill="none" stroke="#222" stroke-width="1" stroke-dasharray="2,1"></path>
<circle cx="403.80" cy="462.79" r="1.4" fill="#fff" stroke="#000" stroke-width="0.8"></circle>
<circle cx="453.10" cy="461.60" r="1.4" fill="#fff" stroke="#000" stroke-width="0.8"></circle>
<circle cx="502.50" cy="461.60" r="1.4" fill="#fff" stroke="#000" stroke-width="0.8"></circle>
<path d="M403.80,458.83 L453.10,461.20 L502.50,461.20" fill="none" stroke="#222" stroke-width="1"></path>
<path d="M402.00,460.03 L403.80,457.03 L405.60,460.03 Z" fill="#000"></path>
<path d="M451.30,462.40 L453.10,459.40 L454.90,462.40 Z" fill="#000"></path>
<path d="M500.70,462.40 L502.50,459.40 L504.30,462.40 Z" fill="#000"></path>
<path d="M403.80,462.39 L453.10,461.60 L502.50,461.20" fill="none" stroke="#222" stroke-width="1" stroke-dasharray="2,1"></path>
<path d="M402.00,463.59 L403.80,460.59 L405.60,463.59 Z" fill="#000"></path>
<path d="M451.30,462.80 L453.10,459.80 L454.90,462.80 Z" fill="#000"></path>
<path d="M500.70,462.40 L502.50,459.40 L504.30,462.40 Z" fill="#000"></path>
<path d="M446.80,409.60L446.80,414.40M444.72,410.80L448.88,413.20M448.88,410.80L444.72,413.20" stroke="#111" stroke-width="1.05" fill="none"></path>
<path d="M453.10,409.60L453.10,414.40M451.02,410.80L455.18,413.20M455.18,410.80L451.02,413.20" stroke="#111" stroke-width="1.05" fill="none"></path>
<path d="M459.40,409.60L459.40,414.40M457.32,410.80L461.48,413.20M461.48,410.80L457.32,413.20" stroke="#111" stroke-width="1.05" fill="none"></path>
<path d="M496.20,410.60L496.20,415.40M494.12,411.80L498.28,414.20M498.28,411.80L494.12,414.20" stroke="#111" stroke-width="1.05" fill="none"></path>
<path d="M502.50,410.60L502.50,415.40M500.42,411.80L504.58,414.20M504.58,411.80L500.42,414.20" stroke="#111" stroke-width="1.05" fill="none"></path>
<path d="M508.80,410.60L508.80,415.40M506.72,411.80L510.88,414.20M510.88,411.80L506.72,414.20" stroke="#111" stroke-width="1.05" fill="none"></path>
<text x="8.00" y="495.60" font-size="9.18" text-anchor="start" fill="#111" stroke="#111" stroke-width="0.26" font-weight="bold" textLength="5.20" lengthAdjust="spacingAndGlyphs">b</text>
</svg>
</body></html>
